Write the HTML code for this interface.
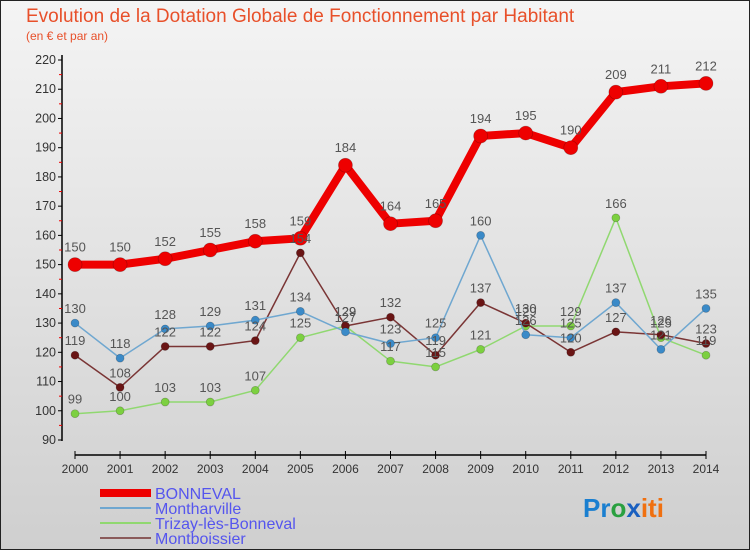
<!DOCTYPE html>
<html><head><meta charset="utf-8"><style>
body{margin:0;width:750px;height:550px;overflow:hidden;font-family:"Liberation Sans",sans-serif}
</style></head><body>
<svg id="c" width="750" height="550" xmlns="http://www.w3.org/2000/svg" font-family="Liberation Sans, sans-serif">
<defs><linearGradient id="bg" x1="0" y1="0" x2="0" y2="1"><stop offset="0" stop-color="#f4f4f4"/><stop offset="1" stop-color="#cfcfcf"/></linearGradient></defs>
<rect x="0.5" y="0.5" width="749" height="549" fill="url(#bg)" stroke="#222"/>
<text x="26" y="22" font-size="19" fill="#e8502a">Evolution de la Dotation Globale de Fonctionnement par Habitant</text>
<text x="26" y="40" font-size="12" fill="#e8502a">(en € et par an)</text>
<g id="axes"></g><g id="series"></g><g id="labels"></g>
<g font-size="16" fill="#5555ee">
<line x1="100" y1="493" x2="151" y2="493" stroke="#e00" stroke-width="8"/><text x="155" y="499">BONNEVAL</text>
<line x1="100" y1="508" x2="151" y2="508" stroke="#6fa7d0" stroke-width="2"/><text x="155" y="514">Montharville</text>
<line x1="100" y1="523" x2="151" y2="523" stroke="#90d870" stroke-width="2"/><text x="155" y="529">Trizay-lès-Bonneval</text>
<line x1="100" y1="538" x2="151" y2="538" stroke="#8a5a5a" stroke-width="2"/><text x="155" y="544">Montboissier</text>
</g>
<g font-size="26" font-weight="bold"><text x="583" y="517"><tspan fill="#1a7fd0">Pr</tspan><tspan fill="#2aa040">o</tspan><tspan fill="#1a60c0">x</tspan><tspan fill="#f07010">iti</tspan></text></g>
</svg>
<script>
const years=[2000,2001,2002,2003,2004,2005,2006,2007,2008,2009,2010,2011,2012,2013,2014];
const bonneval=[150,150,152,155,158,159,184,164,165,194,195,190,209,211,212];
const montharville=[130,118,128,129,131,134,127,123,125,160,126,125,137,121,135];
const trizay=[99,100,103,103,107,125,129,117,115,121,129,129,166,125,119];
const montboissier=[119,108,122,122,124,154,129,132,119,137,130,120,127,126,123];
const yTicks=[90,100,110,120,130,140,150,160,170,180,190,200,210,220];
const NS="http://www.w3.org/2000/svg";
const X=i=>75+i*(706-75)/(years.length-1);
const Y=v=>440-(v-90)*(380/130);
function mk(t,a,p){const e=document.createElementNS(NS,t);for(const k in a)e.setAttribute(k,a[k]);p.appendChild(e);return e;}
const ax=document.getElementById('axes');
let l=mk('line',{x1:62,y1:55,x2:62,y2:441,stroke:'#000','stroke-width':1.5},ax);


l=mk('line',{x1:75,y1:455,x2:706,y2:455,stroke:'#000','stroke-width':1.5},ax);


yTicks.forEach(v=>{mk('line',{x1:58,y1:Y(v),x2:62,y2:Y(v),stroke:'#000'},ax);
if(v<220)mk('line',{x1:59,y1:Y(v+5),x2:62,y2:Y(v+5),stroke:'#e00'},ax);
const t=mk('text',{x:56,y:Y(v)+4,'font-size':12.5,fill:'#333','text-anchor':'end'},ax);t.textContent=v;

});
years.forEach((y,i)=>{mk('line',{x1:X(i),y1:451,x2:X(i),y2:459,stroke:'#000'},ax);
const t=mk('text',{x:X(i),y:473,'font-size':12,fill:'#333','text-anchor':'middle'},ax);t.textContent=y;

});
const S=document.getElementById('series'),L=document.getElementById('labels');
function draw(vals,col,dot,w,r,name){
const g=mk('g',{},S);


mk('polyline',{points:vals.map((v,i)=>X(i)+','+Y(v)).join(' '),fill:'none',stroke:col,'stroke-width':w,'stroke-linejoin':'round'},g);
vals.forEach((v,i)=>{const c=mk('circle',{cx:X(i),cy:Y(v),r:r,fill:dot,stroke:'rgba(0,0,0,0.25)','stroke-width':0.7},g);


const t=mk('text',{x:X(i),y:Y(v)-(r+6),'font-size':13,fill:'#555','text-anchor':'middle'},L);t.textContent=v;

});}
draw(trizay,'#90d870','#7cd040',1.5,4,'trizay');
draw(montboissier,'#7a3535','#6a1515',1.5,4,'montboissier');
draw(montharville,'#6fa7d0','#3a8ac8',1.5,4,'montharville');
draw(bonneval,'#ee0000','#ee0000',8,7,'bonneval');
</script>
</body></html>
